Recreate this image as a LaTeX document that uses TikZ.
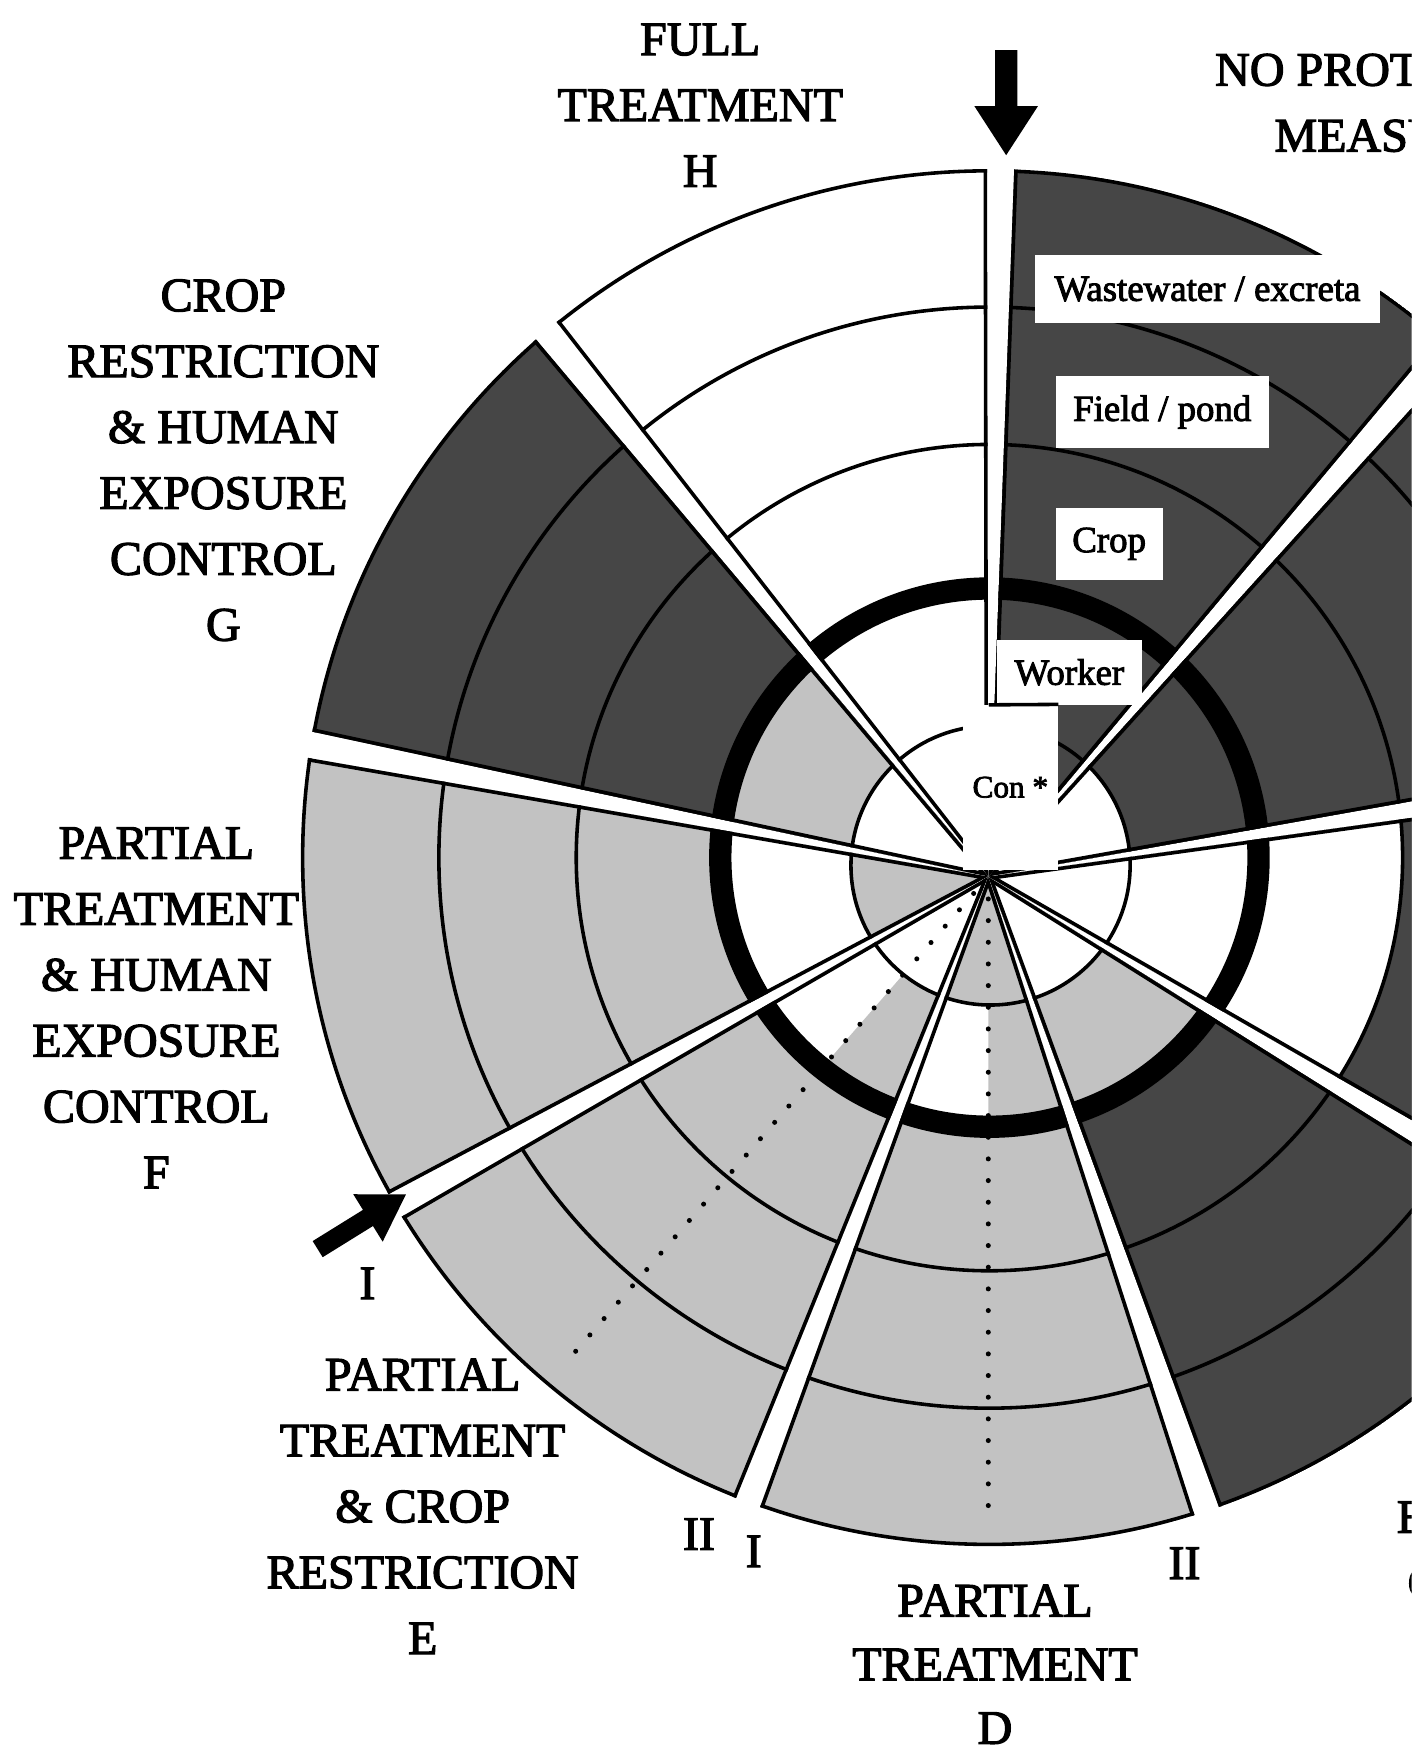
\documentclass[tikz,border=0pt]{standalone}
\usepackage{fontspec}
\setmainfont{Liberation Serif}[FakeBold=2.5]
\usetikzlibrary{calc}

\definecolor{darkfill}{RGB}{70,70,70}
\definecolor{lightfill}{RGB}{194,194,194}

\newcommand\mybigfont{\fontsize{43}{59}\selectfont}
\newcommand\mytagfont{\fontsize{33}{40}\selectfont}
\newcommand\myconfont{\fontsize{28}{34}\selectfont}

% half angular width of the white gap between two sectors
\def\gapd{1.1}

% clip to the wedge between two angles, seen from the hub
\newcommand\wedgeclip[2]{%
  \clip (hub) -- ($(hub)+({#1}:1000)$) -- ($(hub)+({(#1+#2)/2}:1100)$)
        -- ($(hub)+({#2}:1000)$) -- cycle;}

% one sector: #1,#2 gap angles; #3 wastewater, #4 field, #5 crop,
% #6 worker, #7 consumer colours; #8 extra fills before the lines
\newcommand\drawwedge[8]{%
  \begin{scope}
    \wedgeclip{#1+\gapd}{#2-\gapd}
    \clip (cc) circle (616.6);
    \fill[#3] (cc) circle (615);
    \fill[#4] (cc) circle (493);
    \fill[#5] (cc) circle (370);
    \fill[#6] (cc) circle (241);
    \fill[#7] (ct) circle (125);
    #8
    \draw[ringline] (cc) circle (615) (cc) circle (493) (cc) circle (370)
                    (ct) circle (125);
    \draw[thickring] (cc) circle (241);
    \draw[wedgeline] (hub) -- ($(hub)+({#1+\gapd}:700)$);
    \draw[wedgeline] (hub) -- ($(hub)+({#2-\gapd}:700)$);
  \end{scope}}

% worker ring of one half of a split sector
\newcommand\halfworker[3]{%
  \begin{scope}
    \wedgeclip{#1}{#2}
    \fill[#3, even odd rule] (cc) circle (241) (ct) circle (125);
  \end{scope}}

\begin{document}
\begin{tikzpicture}[x=1pt,y=1pt,
  ringline/.style={line width=3.2pt},
  thickring/.style={line width=20pt},
  wedgeline/.style={line width=6.4pt},
  dotline/.style={line width=4.5pt, line cap=round, dash pattern=on 0pt off 19.4pt},
  boxtag/.style={fill=white, inner sep=0pt, font=\mytagfont},
  heading/.style={align=center, inner sep=0pt, font=\mybigfont, anchor=north}]

\useasboundingbox (0,0) rectangle (1264,1568);
\clip (0,0) rectangle (1264,1568);
\fill[white] (0,0) rectangle (1264,1568);

\coordinate (hub) at (885,783);
\coordinate (cc) at (886,800);
\coordinate (ct) at (887,793);

% sectors, counter-clockwise from the right
\drawwedge{9}{49}{darkfill}{darkfill}{darkfill}{darkfill}{white}{}
\drawwedge{49}{89}{darkfill}{darkfill}{darkfill}{darkfill}{darkfill}{}
\drawwedge{89}{129}{white}{white}{white}{white}{white}{}
\drawwedge{129}{169}{darkfill}{darkfill}{darkfill}{lightfill}{white}{}
\drawwedge{169}{209}{lightfill}{lightfill}{lightfill}{white}{lightfill}{}
\drawwedge{209}{249}{lightfill}{lightfill}{lightfill}{white}{white}{\halfworker{229}{260}{lightfill}}
\drawwedge{249}{289}{lightfill}{lightfill}{lightfill}{white}{lightfill}{\halfworker{270}{300}{lightfill}}
\drawwedge{-71}{-31}{darkfill}{darkfill}{darkfill}{lightfill}{white}{}
\drawwedge{-31}{9}{darkfill}{darkfill}{white}{white}{white}{}

% dotted split lines of sectors D and E
\coordinate (dA) at ($(hub)+(270:20)$);
\coordinate (dB) at ($(hub)+(270:580)$);
\coordinate (eA) at ($(hub)+(229:20)$);
\coordinate (eB) at ($(hub)+(229:580)$);
\draw[dotline] (dA) -- (dB);
\draw[dotline] (eA) -- (eB);

% ring labels
\node[boxtag, minimum width=308.6pt, minimum height=61.5pt] (ww) at (1081.3,1309.25) {Wastewater / excreta};
\node[boxtag, minimum width=190.5pt, minimum height=64pt] (field) at (1040.75,1199) {Field / pond};
\node[boxtag, minimum width=95.5pt, minimum height=64pt] (crop) at (993.25,1081) {Crop};
\node[boxtag, minimum width=130pt, minimum height=58pt] (worker) at (957.6,966) {Worker};
\node[boxtag, font=\myconfont, minimum width=85.5pt, minimum height=148pt] (con) at (904.75,863) {Con *};
\coordinate (wl) at ($(worker.south west)+(-7,0)$);
\draw[ringline] (wl) -- (con.north east);

% sector headings
\node[heading] (labH) at (627,1547) {FULL\\TREATMENT\\H};
\node[heading] (labA) at (1256,1520) {NO PROTECTIVE\\MEASURES};
\node[heading] (labG) at (200,1318) {CROP\\RESTRICTION\\\& HUMAN\\EXPOSURE\\CONTROL\\G};
\node[heading] (labF) at (140,827.5) {PARTIAL\\TREATMENT\\\& HUMAN\\EXPOSURE\\CONTROL\\F};
\node[heading] (labE) at (378.5,351.4) {PARTIAL\\TREATMENT\\\& CROP\\RESTRICTION\\E};
\node[heading, font=\fontsize{43}{57}\selectfont] (labD) at (891,149) {PARTIAL\\TREATMENT\\D};
\node[heading] (labC) at (1362,224) {EXPOSURE\\CONTROL};
\node[heading] (eI) at (329,433) {I};
\node[heading] (eII) at (626,208.5) {II};
\node[heading] (dI) at (675,193) {I};
\node[heading] (dII) at (1060.7,182.4) {II};

% entry arrows
\coordinate (tipA) at (901,1429);
\begin{scope}[shift={(tipA)}, rotate=-90]
  \fill (0,0) -- (-44,28.5) -- (-44,10) -- (-94,10) -- (-94,-10) -- (-44,-10) -- (-44,-28.5) -- cycle;
\end{scope}
\coordinate (tipI) at (363.5,498.4);
\begin{scope}[shift={(tipI)}, rotate=31.8]
  \fill (0,0) -- (-40,25) -- (-40,8.5) -- (-93,8.5) -- (-93,-8.5) -- (-40,-8.5) -- (-40,-25) -- cycle;
\end{scope}
\end{tikzpicture}
\end{document}
